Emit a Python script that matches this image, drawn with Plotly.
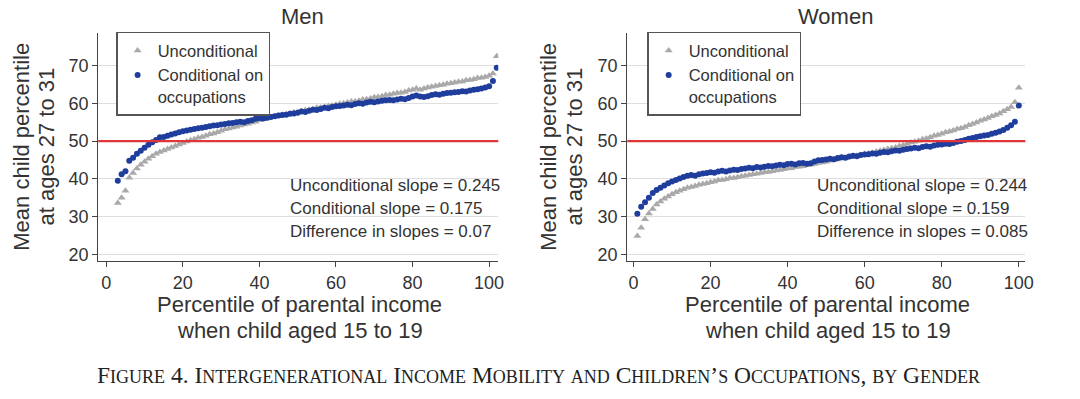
import plotly.graph_objects as go

# ---------------- data ----------------
men_pct = list(range(3, 103))
men_uncond = [33.6, 35.0, 36.8, 40.3, 41.5, 42.7, 43.7, 44.5, 45.3, 46.0,
              46.6, 47.1, 47.5, 47.9, 48.3, 48.7, 49.1, 49.5, 49.9, 50.2,
              50.5, 50.9, 51.1, 51.4, 51.8, 52.0, 52.3, 52.7, 53.1, 53.3,
              53.6, 53.8, 54.1, 54.4, 54.6, 54.9, 55.1, 55.5, 55.8, 56.0,
              56.3, 56.5, 56.7, 57.0, 57.1, 57.3, 57.6, 57.7, 57.9, 58.2,
              58.3, 58.5, 58.8, 58.9, 59.0, 59.3, 59.4, 59.6, 59.9, 60.0,
              60.2, 60.5, 60.5, 60.7, 61.0, 61.1, 61.3, 61.6, 61.7, 61.9,
              62.2, 62.3, 62.5, 62.7, 62.8, 63.0, 63.4, 63.6, 63.9, 63.6,
              63.9, 64.2, 64.4, 64.6, 64.8, 64.9, 65.2, 65.3, 65.5, 65.7,
              65.8, 66.1, 66.2, 66.4, 66.7, 66.8, 67.0, 67.3, 67.9, 72.5]
men_cond = [39.5, 41.2, 42.0, 44.8, 45.6, 46.6, 47.4, 48.2, 49.0, 49.7,
            50.3, 51.0, 51.1, 51.4, 51.7, 52.0, 52.3, 52.6, 52.8, 53.0,
            53.2, 53.4, 53.5, 53.7, 53.9, 54.1, 54.2, 54.4, 54.5, 54.7,
            54.8, 55.0, 55.1, 55.0, 55.3, 55.5, 55.9, 56.1, 56.0, 56.2,
            56.4, 56.6, 56.8, 56.9, 57.0, 57.2, 57.3, 57.5, 57.8, 57.7,
            58.0, 58.3, 58.2, 58.5, 58.8, 58.7, 59.0, 59.2, 59.3, 59.4,
            59.6, 59.5, 59.8, 60.0, 59.9, 60.2, 60.4, 60.3, 60.5, 60.7,
            60.8, 60.9, 60.8, 61.0, 61.2, 61.1, 61.4, 61.8, 62.1, 61.8,
            61.7, 61.9, 62.2, 62.4, 62.3, 62.5, 62.7, 62.8, 62.9, 63.0,
            63.2, 63.1, 63.4, 63.6, 63.7, 63.9, 64.2, 64.5, 65.9, 69.4]

women_pct = list(range(1, 101))
women_uncond = [24.8, 27.0, 29.3, 30.8, 32.0, 33.2, 34.0, 34.7, 35.3, 35.9,
                36.4, 36.8, 37.2, 37.6, 37.8, 38.1, 38.4, 38.6, 38.8, 39.1,
                39.3, 39.6, 39.7, 39.9, 40.2, 40.2, 40.4, 40.7, 40.8, 41.0,
                41.2, 41.3, 41.5, 41.7, 41.8, 42.0, 42.2, 42.3, 42.5, 42.7,
                42.8, 43.1, 43.2, 43.3, 43.6, 43.7, 43.9, 44.2, 44.3, 44.5,
                44.8, 44.9, 45.1, 45.4, 45.5, 45.7, 46.0, 46.1, 46.3, 46.6,
                46.7, 46.9, 47.2, 47.4, 47.6, 47.9, 48.1, 48.3, 48.7, 48.9,
                49.2, 49.6, 49.8, 50.1, 50.5, 50.7, 51.0, 51.4, 51.6, 51.9,
                52.3, 52.5, 52.8, 53.2, 53.4, 53.7, 54.2, 54.5, 54.9, 55.4,
                55.7, 56.1, 56.6, 56.9, 57.3, 57.9, 58.4, 59.0, 60.3, 64.1]
women_cond = [30.7, 32.6, 33.8, 35.0, 36.2, 37.0, 37.6, 38.2, 38.8, 39.3,
              39.7, 40.1, 40.5, 40.8, 41.0, 40.8, 41.2, 41.4, 41.5, 41.7,
              41.6, 41.9, 42.1, 41.9, 42.2, 42.4, 42.3, 42.6, 42.7, 42.9,
              42.8, 43.1, 43.0, 43.2, 43.4, 43.3, 43.5, 43.7, 43.6, 43.9,
              44.0, 43.8, 44.1, 44.2, 44.0, 44.1, 44.6, 44.9, 45.0, 45.1,
              45.3, 45.2, 45.5, 45.7, 45.6, 45.9, 46.1, 46.0, 46.3, 46.4,
              46.5, 46.7, 46.6, 46.9, 47.1, 47.0, 47.3, 47.5, 47.4, 47.7,
              47.9, 48.0, 48.2, 48.1, 48.4, 48.6, 48.5, 48.8, 49.0, 49.1,
              49.3, 49.2, 49.5, 49.8, 50.0, 50.3, 50.6, 50.8, 51.1, 51.3,
              51.5, 51.6, 51.9, 52.2, 52.5, 52.9, 53.5, 54.2, 55.1, 59.4]

panel_titles = ["Men", "Women"]
series_names = ["Unconditional", "Conditional on<br>occupations"]
slope_text = [
    ["Unconditional slope = 0.245", "Conditional slope = 0.175", "Difference in slopes = 0.07"],
    ["Unconditional slope = 0.244", "Conditional slope = 0.159", "Difference in slopes = 0.085"],
]
x_ticks = [0, 20, 40, 60, 80, 100]
y_ticks = [20, 30, 40, 50, 60, 70]
x_title = ["Percentile of parental income", "when child aged 15 to 19"]
y_title = ["Mean child percentile", "at ages 27 to 31"]
caption = "Figure 4. Intergenerational Income Mobility and Children’s Occupations, by Gender"

# ---------------- style ----------------
W, H = 1080, 399
FONT = "Liberation Sans, Arial, Helvetica, sans-serif"
TXT = "#333333"
AX = "#444444"
GRAY = "#a9a9a9"
BLUE = "#1f3d9c"
RED = "#e0363a"

fig = go.Figure()

panels = [
    dict(x=men_pct, u=men_uncond, c=men_cond, xa="x", ya="y", leg="legend"),
    dict(x=women_pct, u=women_uncond, c=women_cond, xa="x2", ya="y2", leg="legend2"),
]
for p in panels:
    fig.add_trace(go.Scatter(x=p["x"], y=p["u"], mode="markers", name=series_names[0],
                             xaxis=p["xa"], yaxis=p["ya"], legend=p["leg"],
                             marker=dict(symbol="triangle-up", size=7, color=GRAY)))
    fig.add_trace(go.Scatter(x=p["x"], y=p["c"], mode="markers", name=series_names[1],
                             xaxis=p["xa"], yaxis=p["ya"], legend=p["leg"],
                             marker=dict(symbol="circle", size=6, color=BLUE)))

# pixel geometry of the two plot areas
px_l = [99, 632]
px_r = [502, 1033]
py_t, py_b = 33, 263
x_ranges = [[-2.1, 102.4], [-1.6, 101.7]]
y_range = [18.2, 78.7]

def yp(py):
    return 1 - py / H

axis_common = dict(showline=True, linecolor=AX, linewidth=1.3, ticks="outside",
                   ticklen=5, tickwidth=1.2, tickcolor=AX, zeroline=False,
                   tickfont=dict(family=FONT, size=18, color=TXT))

layout_axes = {}
for i in range(2):
    sx = "" if i == 0 else "2"
    layout_axes["xaxis" + sx] = dict(axis_common, domain=[px_l[i] / W, px_r[i] / W],
                                     range=x_ranges[i], tickvals=x_ticks, showgrid=False,
                                     anchor="y" + sx)
    layout_axes["yaxis" + sx] = dict(axis_common, domain=[yp(py_b), yp(py_t)],
                                     range=y_range, tickvals=y_ticks, showgrid=True,
                                     gridcolor="#dedede", gridwidth=1.2,
                                     anchor="x" + sx)

legend_common = dict(xanchor="left", yanchor="top", bgcolor="white",
                     bordercolor="#555555", borderwidth=1.5, valign="top",
                     font=dict(family=FONT, size=16.5, color=TXT),
                     tracegroupgap=0, itemwidth=30)

fig.update_layout(
    width=W, height=H,
    margin=dict(l=0, r=0, t=0, b=0),
    paper_bgcolor="white", plot_bgcolor="white",
    showlegend=True,
    legend=dict(legend_common, x=117 / W, y=yp(32)),
    legend2=dict(legend_common, x=652 / W, y=yp(32)),
    **layout_axes,
)

shapes = []
annotations = []
title_cx = [305, 842]
xt_cx = [302, 834]
yt_cx = [[22, 47], [553, 579]]
for i in range(2):
    sx = "" if i == 0 else "2"
    shapes.append(dict(type="line", xref="x%s domain" % sx, yref="y" + sx,
                       x0=0, x1=1, y0=50, y1=50, line=dict(color=RED, width=2.2)))
    annotations.append(dict(text=panel_titles[i], xref="paper", yref="paper",
                            x=title_cx[i] / W, y=yp(17), showarrow=False,
                            xanchor="center", yanchor="middle",
                            font=dict(family=FONT, size=22, color=TXT)))
    for j, line in enumerate(slope_text[i]):
        annotations.append(dict(text=line, xref="paper", yref="paper",
                                x=(290 if i == 0 else 821.5) / W, y=yp([187, 210.5, 233][j]),
                                showarrow=False, xanchor="left", yanchor="middle",
                                font=dict(family=FONT, size=17, color=TXT)))
    for j, line in enumerate(x_title):
        annotations.append(dict(text=line, xref="paper", yref="paper",
                                x=xt_cx[i] / W, y=yp([307, 333][j]), showarrow=False,
                                xanchor="center", yanchor="middle",
                                font=dict(family=FONT, size=22, color=TXT)))
    for j, line in enumerate(y_title):
        annotations.append(dict(text=line, xref="paper", yref="paper",
                                x=yt_cx[i][j] / W, y=yp(148), showarrow=False,
                                textangle=-90, xanchor="center", yanchor="middle",
                                font=dict(family=FONT, size=22, color=TXT)))

# caption in small caps
def small_caps(s, big, small):
    out = []
    for ch in s:
        if ch.islower():
            out.append('<span style="font-size:%spx">%s</span>' % (small, ch.upper()))
        else:
            out.append(ch)
    return '<span style="font-size:%spx">%s</span>' % (big, "".join(out))

annotations.append(dict(text=small_caps(caption, 23.5, 18), xref="paper", yref="paper",
                        x=543 / W, y=yp(378), showarrow=False, xanchor="center",
                        yanchor="middle",
                        font=dict(family="Liberation Serif, Times New Roman, serif",
                                  size=23.5, color="#222222")))

fig.update_layout(shapes=shapes, annotations=annotations)
fig.write_html("out.html", config={"displayModeBar": False},
               post_script="document.body.style.margin='0';document.body.style.overflow='hidden';")
